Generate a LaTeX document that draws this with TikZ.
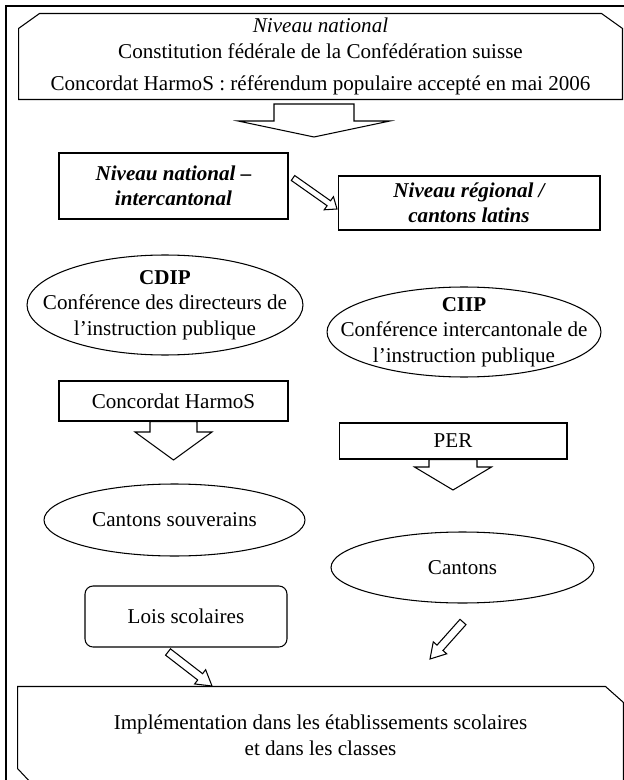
\documentclass[tikz,border=0pt]{standalone}
\usepackage{fontspec}
\setmainfont{Liberation Serif}
\usepackage{tikz}
\usetikzlibrary{positioning,calc,shapes.geometric}

\begin{document}
\begin{tikzpicture}[x=0.02cm,y=-0.02cm,line width=0.6pt,
  every node/.style={font=\fontsize{12}{14.5}\selectfont, align=center, inner sep=0pt},
  boite/.style={draw, rectangle},
  bulle/.style={draw, ellipse},
  titre/.style={font=\fontsize{12}{14.5}\selectfont\bfseries\itshape}]
\useasboundingbox (0,0) rectangle (623,780);
\draw (6,6) rectangle (630,790);

\node[minimum width=12.06cm, minimum height=1.7cm] (national) at (320.5,56.5) {\textit{Niveau national}\\Constitution fédérale de la Confédération suisse\\[4pt]Concordat HarmoS : référendum populaire accepté en mai 2006};
\draw (national.south west) -- ($(national.north west)+(0,15)$) -- ($(national.north west)+(21,0)$) -- ($(national.north east)+(-21,0)$) -- ($(national.north east)+(0,15)$) -- (national.south east) -- cycle;
\node[boite, titre, minimum width=4.58cm, minimum height=1.32cm] (natinter) at (173.5,186) {Niveau national –\\intercantonal};
\node[boite, titre, minimum width=5.24cm, minimum height=1.08cm] (regional) at (469,203) {Niveau régional /\\cantons latins};
\node[bulle, minimum width=5.52cm, minimum height=2cm, label={[align=center]center:{\textbf{CDIP}\\Conférence des directeurs de\\l’instruction publique}}] (cdip) at (165,305) {};
\node[bulle, minimum width=5.48cm, minimum height=1.8cm, label={[align=center]center:{\textbf{CIIP}\\Conférence intercantonale de\\l’instruction publique}}] (ciip) at (464,332) {};
\node[boite, minimum width=4.58cm, minimum height=0.8cm] (harmos) at (173.5,401) {Concordat HarmoS};
\node[boite, minimum width=4.56cm, minimum height=0.72cm] (per) at (453,441) {PER};
\node[bulle, minimum width=5.22cm, minimum height=1.44cm] (souverains) at (174.5,520) {Cantons souverains};
\node[bulle, minimum width=5.26cm, minimum height=1.42cm] (cantons) at (462.5,567.5) {Cantons};
\node[boite, rounded corners=1.6mm, minimum width=4.04cm, minimum height=1.22cm] (lois) at (186,616.5) {Lois scolaires};
\node[minimum width=12.1cm, minimum height=1.94cm] (implementation) at (320.5,735.5) {Implémentation dans les établissements scolaires\\et dans les classes};
\draw (implementation.north west) -- ($(implementation.north east)+(-18,0)$) -- ($(implementation.north east)+(0,16)$) -- (implementation.south east) -- ($(implementation.south west)+(15,0)$) -- ($(implementation.south west)+(0,-16)$) -- cycle;

\coordinate (g1) at (314,104);
\coordinate (g2) at (314,137);
\coordinate (h2) at (173.5,460);
\coordinate (p2) at (453,490);
\coordinate (n1) at (293,178);
\coordinate (n2) at (337,209);
\coordinate (l1) at (168,652);
\coordinate (l2) at (212,686);
\coordinate (c1) at (463,622);
\coordinate (c2) at (430,659);

\foreach \dep/\arr/\tige/\tete/\pointe in {g1/g2/0.8/1.52/0.32, harmos.south/h2/0.47/0.77/0.56, per.south/p2/0.48/0.77/0.46, n1/n2/0.06/0.16/0.2, l1/l2/0.08/0.18/0.3, c1/c2/0.08/0.18/0.3} {
  \coordinate (base) at ($(\arr)!\pointe cm!(\dep)$);
  \draw[fill=white] ($(\dep)!\tige cm!90:(\arr)$) -- ($(base)!\tige cm!90:(\arr)$) -- ($(base)!\tete cm!90:(\arr)$) -- (\arr) -- ($(base)!\tete cm!-90:(\arr)$) -- ($(base)!\tige cm!-90:(\arr)$) -- ($(\dep)!\tige cm!-90:(\arr)$) -- cycle;
}
\end{tikzpicture}
\end{document}
